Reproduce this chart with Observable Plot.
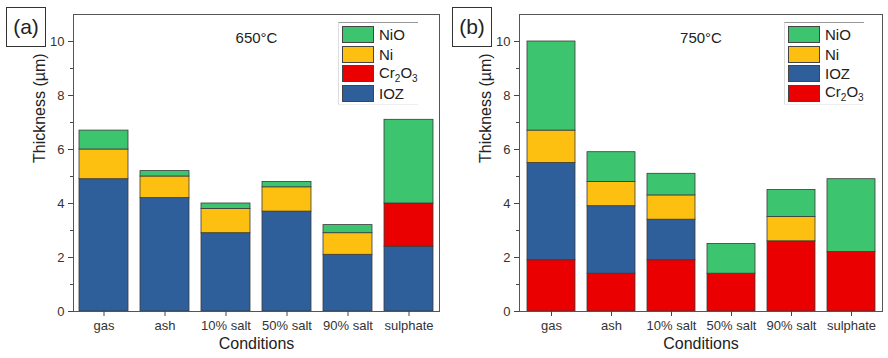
<!DOCTYPE html>
<html><head><meta charset="utf-8">
<script src="https://cdn.jsdelivr.net/npm/d3@7"></script>
<script src="https://cdn.jsdelivr.net/npm/@observablehq/plot@0.6"></script>
<style>
body{margin:0;background:#fff;font-family:"Liberation Sans",Arial,sans-serif;}
#wrap{position:relative;width:888px;height:358px;display:flex;}
.plabel{position:absolute;top:7px;width:38px;height:38px;border:1.3px solid #333;font-size:21px;line-height:38px;text-align:center;color:#222;}
.legend{position:absolute;top:22px;border-top:1px solid #999;border-left:1px solid #ddd;border-bottom:1px solid #eee;padding:2px 0 1px 3px;}
.row{display:flex;align-items:center;height:19px;margin-bottom:0.6px;}
.sw{width:32px;height:17px;border:0.8px solid #444;box-sizing:border-box;margin-right:5px;}
.lt{font-size:15px;color:#222;}
.lt sub{font-size:10px;}
</style></head>
<body>
<div id="wrap"></div>
<script>
const conditions = ["gas", "ash", "10% salt", "50% salt", "90% salt", "sulphate"];
const layerNames = ["NiO", "Ni", "Cr2O3", "IOZ"];
const layerColors = ["#3cc46f", "#fdc010", "#ea0000", "#2e5f9a"];

// 650°C (stack bottom -> top: IOZ, Cr2O3, Ni, NiO)
const ioz650 = [4.9, 4.2, 2.9, 3.7, 2.1, 2.4];
const cr650  = [0, 0, 0, 0, 0, 1.6];
const ni650  = [1.1, 0.8, 0.9, 0.9, 0.8, 0];
const nio650 = [0.7, 0.2, 0.2, 0.2, 0.3, 3.1];

// 750°C (stack bottom -> top: Cr2O3, IOZ, Ni, NiO)
const cr750  = [1.9, 1.4, 1.9, 1.4, 2.6, 2.2];
const ioz750 = [3.6, 2.5, 1.5, 0, 0, 0];
const ni750  = [1.2, 0.9, 0.9, 0, 0.9, 0];
const nio750 = [3.3, 1.1, 0.8, 1.1, 1.0, 2.7];

const majorTicks = [0, 2, 4, 6, 8, 10];
const minorTicks = [1, 3, 5, 7, 9];

function rowsOf(series) {
  const out = [];
  for (const [layer, vals] of series)
    vals.forEach((v, i) => { if (v > 0) out.push({cond: conditions[i], layer, value: v}); });
  return out;
}

const rows650 = rowsOf([["IOZ", ioz650], ["Cr2O3", cr650], ["Ni", ni650], ["NiO", nio650]]);
const rows750 = rowsOf([["Cr2O3", cr750], ["IOZ", ioz750], ["Ni", ni750], ["NiO", nio750]]);

function panel(rows, order, title, ml, mr) {
  return Plot.plot({
    width: 444, height: 358,
    marginLeft: ml, marginRight: mr, marginTop: 14, marginBottom: 47,
    style: {fontFamily: "Liberation Sans, Arial, sans-serif", fontSize: "13px", color: "#333", background: "white", overflow: "visible"},
    x: {domain: conditions, paddingInner: 0.2, paddingOuter: 0.1, label: null},
    y: {domain: [0, 11], label: null},
    color: {domain: layerNames, range: layerColors},
    marks: [
      Plot.barY(rows, Plot.stackY({x: "cond", y: "value", fill: "layer", order, stroke: "#3a3a3a", strokeWidth: 0.8})),
      Plot.frame({stroke: "#555", strokeWidth: 1}),
      Plot.axisY({ticks: majorTicks, tickSize: 5, tickPadding: 4, label: null, fontSize: 13, stroke: "#444"}),
      Plot.axisY({ticks: minorTicks, tickSize: 3, text: null, label: null, stroke: "#444"}),
      Plot.axisX({tickSize: 5, tickPadding: 4, label: null, fontSize: 13, stroke: "#444"}),
      Plot.text(["Thickness (µm)"], {text: d => d, frameAnchor: "left", dx: -34, rotate: -90, fontSize: 16, fill: "#222"}),
      Plot.text(["Conditions"], {text: d => d, frameAnchor: "bottom", dy: 37, fontSize: 16, fill: "#222"}),
      Plot.text([title], {text: d => d, frameAnchor: "top", dy: 18, fontSize: 15, fill: "#222"})
    ]
  });
}

const wrap = document.getElementById("wrap");
wrap.appendChild(panel(rows650, ["IOZ", "Cr2O3", "Ni", "NiO"], "650°C", 73, 5));
wrap.appendChild(panel(rows750, ["Cr2O3", "IOZ", "Ni", "NiO"], "750°C", 75, 6));

function label(txt, left) {
  const d = document.createElement("div");
  d.className = "plabel"; d.style.left = left + "px"; d.textContent = txt;
  wrap.appendChild(d);
}
label("(a)", 6);
label("(b)", 452);

function legend(order, left) {
  const d = document.createElement("div");
  d.className = "legend"; d.style.left = left + "px";
  for (const name of order) {
    const r = document.createElement("div"); r.className = "row";
    const s = document.createElement("div"); s.className = "sw";
    s.style.background = layerColors[layerNames.indexOf(name)];
    const t = document.createElement("span"); t.className = "lt";
    t.innerHTML = name === "Cr2O3" ? "Cr<sub>2</sub>O<sub>3</sub>" : name;
    r.appendChild(s); r.appendChild(t); d.appendChild(r);
  }
  wrap.appendChild(d);
}
legend(["NiO", "Ni", "Cr2O3", "IOZ"], 338);
legend(["NiO", "Ni", "IOZ", "Cr2O3"], 784);
</script>
</body></html>
